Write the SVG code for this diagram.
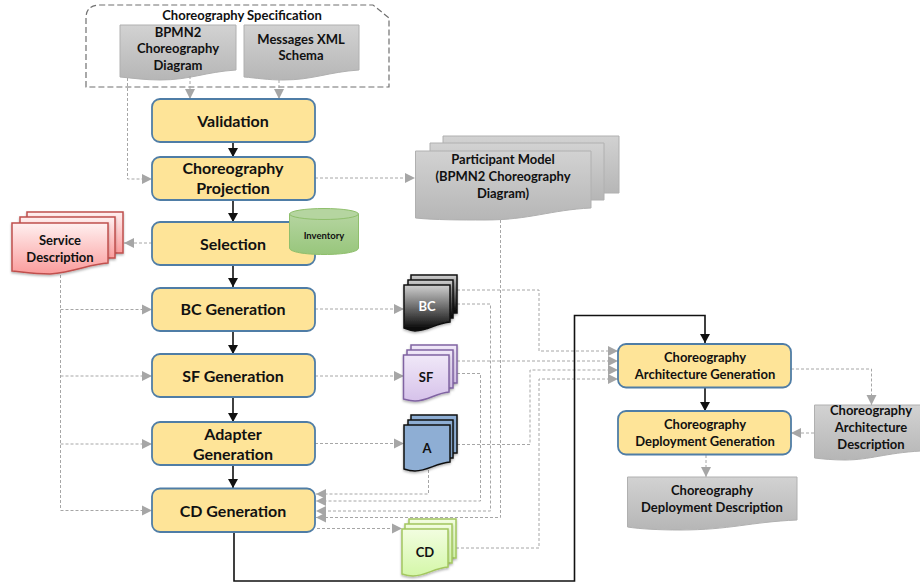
<svg xmlns="http://www.w3.org/2000/svg" width="920" height="585" viewBox="0 0 920 585">
<style>
text{font-family:"Lato","Open Sans","Liberation Sans",sans-serif;font-weight:700;fill:#111;text-anchor:middle}
.proc{fill:#fee498;stroke:#4f7da6;stroke-width:1.8}
.t16{font-size:16px}
.t13{font-size:13px}
.dash{fill:none;stroke:#a6a6a6;stroke-width:1;stroke-dasharray:3 2}
.dasha{fill:none;stroke:#a6a6a6;stroke-width:1;stroke-dasharray:3 2;marker-end:url(#g)}
.blk{fill:none;stroke:#111;stroke-width:1.6;marker-end:url(#k)}
.gray{fill:url(#gg);stroke:#b0b0b0;stroke-width:1}
.red{fill:url(#gr);stroke:#c0504d;stroke-width:1.5;filter:url(#sh)}
.bc{fill:url(#gb);stroke:#111;stroke-width:1.5;filter:url(#sh)}
.sf{fill:url(#gs);stroke:#8064a2;stroke-width:1.5;filter:url(#sh)}
.ad{fill:#8eaed4;stroke:#111;stroke-width:1.5;filter:url(#sh)}
.cd{fill:url(#gc);stroke:#a3c65f;stroke-width:1.5;filter:url(#sh)}
</style>
<defs>
<linearGradient id="gg" x1="0" y1="0" x2="0" y2="1"><stop offset="0" stop-color="#d2d2d2"/><stop offset="1" stop-color="#b6b6b6"/></linearGradient>
<linearGradient id="gr" x1="0" y1="0" x2="0" y2="1"><stop offset="0" stop-color="#fff0f0"/><stop offset="1" stop-color="#fa9c9c"/></linearGradient>
<linearGradient id="gb" x1="0" y1="0" x2="0" y2="1"><stop offset="0" stop-color="#d0d0d0"/><stop offset="1" stop-color="#000"/></linearGradient>
<linearGradient id="gs" x1="0" y1="0" x2="0" y2="1"><stop offset="0" stop-color="#f0e8f8"/><stop offset="1" stop-color="#d6c2ea"/></linearGradient>
<linearGradient id="gc" x1="0" y1="0" x2="0" y2="1"><stop offset="0" stop-color="#f2fde0"/><stop offset="1" stop-color="#d4f7a8"/></linearGradient>
<linearGradient id="gi" x1="0" y1="0" x2="0" y2="1"><stop offset="0" stop-color="#b5d5a0"/><stop offset="1" stop-color="#98c67c"/></linearGradient>
<filter id="sh" x="-20%" y="-20%" width="140%" height="140%"><feDropShadow dx="0" dy="1.5" stdDeviation="1.2" flood-color="#000" flood-opacity="0.3"/></filter>
<marker id="g" markerUnits="userSpaceOnUse" markerWidth="12" markerHeight="12" refX="10" refY="6" orient="auto"><path d="M0 1L10 6L0 11Z" fill="#a6a6a6"/></marker>
<marker id="k" markerUnits="userSpaceOnUse" markerWidth="12" markerHeight="12" refX="10" refY="6" orient="auto"><path d="M1 1L10 6L1 11Z" fill="#111"/></marker>
</defs>

<g id="spec">
<path d="M86 87V18Q86 5 100 5H373L389 18V87Z" fill="#fff" stroke="#707070" stroke-width="1.2" stroke-dasharray="6 3"/>
<text class="t13" x="242" y="20">Choreography Specification</text>
<path class="gray" d="M120 25H236V70C205 72 190 80 160 80C145 80 132 78 120 77Z"/>
<text class="t13"><tspan x="178" y="36.500">BPMN2</tspan><tspan x="178" y="53">Choreography</tspan><tspan x="178" y="69.500">Diagram</tspan></text>
<path class="gray" d="M244 25H359V70C328 72 313 80 283 80C268 80 256 78 244 77Z"/>
<text class="t13"><tspan x="301" y="44">Messages XML</tspan><tspan x="301" y="60">Schema</tspan></text>
</g>

<g id="connectors">
<path class="dasha" d="M127.500 78V179H152"/>
<path class="dasha" d="M190 76V99"/>
<path class="dasha" d="M279 80V99"/>
<path class="dasha" d="M315 178H415"/>
<path class="dasha" d="M152 243H124"/>
<path class="dash" d="M60.500 275V510"/>
<path class="dasha" d="M60.500 309.500H152"/>
<path class="dasha" d="M60.500 376H152"/>
<path class="dasha" d="M60.500 444H152"/>
<path class="dasha" d="M60.500 510.500H152"/>
<path class="dasha" d="M315 309H404"/>
<path class="dasha" d="M315 376H404"/>
<path class="dasha" d="M315 443.500H404"/>
<path class="dasha" d="M317 528.500H402"/>
<path class="dasha" d="M428.500 470V494H316"/>
<path class="dasha" d="M457 373.500H480.500V501H316"/>
<path class="dasha" d="M457 304H490.500V511H316"/>
<path class="dasha" d="M500.500 220V517.500H316"/>
<path class="dasha" d="M457 290H539V351H618"/>
<path class="dasha" d="M457 361H618"/>
<path class="dasha" d="M457 444.500H530V370H618"/>
<path class="dasha" d="M456 548H539V379H618"/>
<path class="dasha" d="M791 369H871.500V405"/>
<path class="dasha" d="M814 433H791"/>
<path class="dasha" d="M706 455V477"/>
<path class="blk" d="M233 142V157"/>
<path class="blk" d="M233 200V222"/>
<path class="blk" d="M233 265V287"/>
<path class="blk" d="M233 331V354"/>
<path class="blk" d="M233 397V422"/>
<path class="blk" d="M233 465V488"/>
<path class="blk" d="M705 387V411"/>
<path class="blk" d="M234 532V581H574.500V315.500H705V343"/>
</g>

<g id="validation"><rect class="proc" x="152" y="99" width="163" height="43" rx="8"/><text class="t16" x="233" y="126.500">Validation</text></g>
<g id="projection"><rect class="proc" x="152" y="157" width="163" height="43" rx="8"/><text class="t16"><tspan x="233" y="174">Choreography</tspan><tspan x="233" y="194">Projection</tspan></text></g>
<g id="selection"><rect class="proc" x="152" y="222" width="163" height="43" rx="8"/><text class="t16" x="233" y="250">Selection</text></g>
<g id="inventory">
<path d="M289.500 214V248C289.500 252 305 254.500 324 254.500S358.500 252 358.500 248V214Z" fill="url(#gi)" stroke="#8fbf6c"/>
<ellipse cx="324" cy="214" rx="34.500" ry="5.500" fill="#b5d5a0" stroke="#8fbf6c"/>
<text x="324" y="239" style="font-size:9.500px">Inventory</text>
</g>
<g id="bc-generation"><rect class="proc" x="152" y="288" width="163" height="43" rx="8"/><text class="t16" x="233" y="315">BC Generation</text></g>
<g id="sf-generation"><rect class="proc" x="152" y="354" width="163" height="43" rx="8"/><text class="t16" x="233" y="381.500">SF Generation</text></g>
<g id="adapter-generation"><rect class="proc" x="152" y="422" width="163" height="43" rx="8"/><text class="t16"><tspan x="233" y="440">Adapter</tspan><tspan x="233" y="460">Generation</tspan></text></g>
<g id="cd-generation"><rect class="proc" x="152" y="488.500" width="163" height="43.500" rx="8"/><text class="t16" x="233" y="517">CD Generation</text></g>
<g id="arch-generation"><rect class="proc" x="618" y="344" width="173" height="43.500" rx="8"/><text class="t13"><tspan x="705" y="362">Choreography</tspan><tspan x="705" y="379">Architecture Generation</tspan></text></g>
<g id="deploy-generation"><rect class="proc" x="618" y="411" width="173" height="43.500" rx="8"/><text class="t13"><tspan x="705" y="429">Choreography</tspan><tspan x="705" y="446">Deployment Generation</tspan></text></g>

<g id="participant-model">
<path class="gray" d="M443 136H619V193H443Z"/>
<path class="gray" d="M430 143H604V200H430Z"/>
<path class="gray" d="M415.500 151H591V208C550 210 530 220 485 220C460 220 435 220 415.500 218Z"/>
<text class="t13"><tspan x="503" y="164">Participant Model</tspan><tspan x="503" y="181">(BPMN2 Choreography</tspan><tspan x="503" y="198">Diagram)</tspan></text>
</g>
<g id="service-description">
<path class="red" d="M27 212H123V253H27Z"/>
<path class="red" d="M20 217H115V258H20Z"/>
<path class="red" d="M12 223H108V263C90 264 75 272 50 274C35 274 22 272 12 271Z"/>
<text class="t13"><tspan x="60" y="245">Service</tspan><tspan x="60" y="262">Description</tspan></text>
</g>
<g id="bc-doc">
<path class="bc" d="M411 275H457V313H411Z"/>
<path class="bc" d="M408 280H453V318H408Z"/>
<path class="bc" d="M404 285H450V322C436 323 428 331 415 331C410 331 407 329 404 328Z"/>
<text x="427" y="311" style="font-size:13px;fill:#fff">BC</text>
</g>
<g id="sf-doc">
<path class="sf" d="M411 345H457V383H411Z"/>
<path class="sf" d="M407 350H453V388H407Z"/>
<path class="sf" d="M403.500 355H449V392C436 393 428 401 415 401C410 401 407 400 403.500 399Z"/>
<text x="426" y="382" style="font-size:13px">SF</text>
</g>
<g id="a-doc">
<path class="ad" d="M411 415H457V453H411Z"/>
<path class="ad" d="M408 420H453V458H408Z"/>
<path class="ad" d="M404 425H450V462C436 463 428 471 415 471C410 471 407 470 404 469Z"/>
<text x="427" y="453" style="font-size:13px">A</text>
</g>
<g id="cd-doc">
<path class="cd" d="M409 519H456V558H409Z"/>
<path class="cd" d="M405 524H452V563H405Z"/>
<path class="cd" d="M402 529H448V567C434 568 426 576 413 576C408 576 405 575 402 574Z"/>
<text x="425" y="557" style="font-size:13px">CD</text>
</g>
<g id="arch-description">
<path class="gray" d="M814.500 405H921V451C885 453 870 460 845 460C833 460 823 459 814.500 458Z"/>
<text class="t13"><tspan x="871" y="415">Choreography</tspan><tspan x="871" y="432">Architecture</tspan><tspan x="871" y="449">Description</tspan></text>
</g>
<g id="deploy-description">
<path class="gray" d="M627.500 477H797V520C750 522 730 530 680 530C660 530 640 529 627.500 527Z"/>
<text class="t13"><tspan x="712" y="495">Choreography</tspan><tspan x="712" y="512">Deployment Description</tspan></text>
</g>
</svg>
